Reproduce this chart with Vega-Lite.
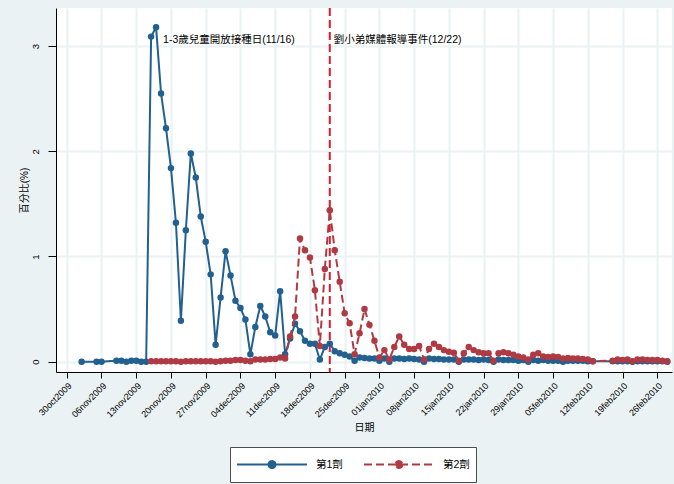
{
  "$schema": "https://vega.github.io/schema/vega-lite/v6.json",
  "width": 616,
  "height": 364,
  "autosize": {"type": "none"},
  "padding": {"left": 56, "top": 8, "right": 2, "bottom": 112},
  "background": "#EAF2F3",
  "config": {
    "view": {"fill": "white", "stroke": null},
    "font": "'Liberation Sans', 'Noto Sans CJK TC', sans-serif",
    "axis": {
      "domainColor": "black",
      "tickColor": "black",
      "labelColor": "black",
      "titleColor": "black",
      "gridColor": "#EAF2F3",
      "gridWidth": 2,
      "labelFont": "'Liberation Sans', 'Noto Sans CJK TC', sans-serif",
      "titleFont": "'Liberation Sans', 'Noto Sans CJK TC', sans-serif",
      "titleFontWeight": "normal",
      "labelFontSize": 9,
      "titleFontSize": 10
    }
  },
  "datasets": {
    "vacc": [
      {"date": "2009-11-02", "dose": "第1劑", "pct": 0},
      {"date": "2009-11-05", "dose": "第1劑", "pct": 0},
      {"date": "2009-11-06", "dose": "第1劑", "pct": 0},
      {"date": "2009-11-09", "dose": "第1劑", "pct": 0.01},
      {"date": "2009-11-10", "dose": "第1劑", "pct": 0.01},
      {"date": "2009-11-11", "dose": "第1劑", "pct": 0},
      {"date": "2009-11-12", "dose": "第1劑", "pct": 0.01},
      {"date": "2009-11-13", "dose": "第1劑", "pct": 0.01},
      {"date": "2009-11-14", "dose": "第1劑", "pct": 0},
      {"date": "2009-11-15", "dose": "第1劑", "pct": 0},
      {"date": "2009-11-16", "dose": "第1劑", "pct": 3.09},
      {"date": "2009-11-17", "dose": "第1劑", "pct": 3.18},
      {"date": "2009-11-18", "dose": "第1劑", "pct": 2.55},
      {"date": "2009-11-19", "dose": "第1劑", "pct": 2.22},
      {"date": "2009-11-20", "dose": "第1劑", "pct": 1.84},
      {"date": "2009-11-21", "dose": "第1劑", "pct": 1.32},
      {"date": "2009-11-22", "dose": "第1劑", "pct": 0.39},
      {"date": "2009-11-23", "dose": "第1劑", "pct": 1.25},
      {"date": "2009-11-24", "dose": "第1劑", "pct": 1.98},
      {"date": "2009-11-25", "dose": "第1劑", "pct": 1.75},
      {"date": "2009-11-26", "dose": "第1劑", "pct": 1.38},
      {"date": "2009-11-27", "dose": "第1劑", "pct": 1.14},
      {"date": "2009-11-28", "dose": "第1劑", "pct": 0.83},
      {"date": "2009-11-29", "dose": "第1劑", "pct": 0.16},
      {"date": "2009-11-30", "dose": "第1劑", "pct": 0.61},
      {"date": "2009-12-01", "dose": "第1劑", "pct": 1.05},
      {"date": "2009-12-02", "dose": "第1劑", "pct": 0.82},
      {"date": "2009-12-03", "dose": "第1劑", "pct": 0.58},
      {"date": "2009-12-04", "dose": "第1劑", "pct": 0.51},
      {"date": "2009-12-05", "dose": "第1劑", "pct": 0.4},
      {"date": "2009-12-06", "dose": "第1劑", "pct": 0.07},
      {"date": "2009-12-07", "dose": "第1劑", "pct": 0.33},
      {"date": "2009-12-08", "dose": "第1劑", "pct": 0.53},
      {"date": "2009-12-09", "dose": "第1劑", "pct": 0.43},
      {"date": "2009-12-10", "dose": "第1劑", "pct": 0.28},
      {"date": "2009-12-11", "dose": "第1劑", "pct": 0.25},
      {"date": "2009-12-12", "dose": "第1劑", "pct": 0.67},
      {"date": "2009-12-13", "dose": "第1劑", "pct": 0.07},
      {"date": "2009-12-14", "dose": "第1劑", "pct": 0.22},
      {"date": "2009-12-15", "dose": "第1劑", "pct": 0.36},
      {"date": "2009-12-16", "dose": "第1劑", "pct": 0.29},
      {"date": "2009-12-17", "dose": "第1劑", "pct": 0.2},
      {"date": "2009-12-18", "dose": "第1劑", "pct": 0.17},
      {"date": "2009-12-19", "dose": "第1劑", "pct": 0.17},
      {"date": "2009-12-20", "dose": "第1劑", "pct": 0.02},
      {"date": "2009-12-21", "dose": "第1劑", "pct": 0.14},
      {"date": "2009-12-22", "dose": "第1劑", "pct": 0.17},
      {"date": "2009-12-23", "dose": "第1劑", "pct": 0.1},
      {"date": "2009-12-24", "dose": "第1劑", "pct": 0.08},
      {"date": "2009-12-25", "dose": "第1劑", "pct": 0.065},
      {"date": "2009-12-26", "dose": "第1劑", "pct": 0.05},
      {"date": "2009-12-27", "dose": "第1劑", "pct": 0.01},
      {"date": "2009-12-28", "dose": "第1劑", "pct": 0.04},
      {"date": "2009-12-29", "dose": "第1劑", "pct": 0.035},
      {"date": "2009-12-30", "dose": "第1劑", "pct": 0.03},
      {"date": "2009-12-31", "dose": "第1劑", "pct": 0.03},
      {"date": "2010-01-01", "dose": "第1劑", "pct": 0.01},
      {"date": "2010-01-02", "dose": "第1劑", "pct": 0.03},
      {"date": "2010-01-03", "dose": "第1劑", "pct": 0},
      {"date": "2010-01-04", "dose": "第1劑", "pct": 0.03},
      {"date": "2010-01-05", "dose": "第1劑", "pct": 0.03},
      {"date": "2010-01-06", "dose": "第1劑", "pct": 0.025},
      {"date": "2010-01-07", "dose": "第1劑", "pct": 0.03},
      {"date": "2010-01-08", "dose": "第1劑", "pct": 0.025},
      {"date": "2010-01-09", "dose": "第1劑", "pct": 0.02},
      {"date": "2010-01-10", "dose": "第1劑", "pct": 0},
      {"date": "2010-01-11", "dose": "第1劑", "pct": 0.03},
      {"date": "2010-01-12", "dose": "第1劑", "pct": 0.025},
      {"date": "2010-01-13", "dose": "第1劑", "pct": 0.025},
      {"date": "2010-01-14", "dose": "第1劑", "pct": 0.02},
      {"date": "2010-01-15", "dose": "第1劑", "pct": 0.02},
      {"date": "2010-01-16", "dose": "第1劑", "pct": 0.02},
      {"date": "2010-01-17", "dose": "第1劑", "pct": 0},
      {"date": "2010-01-18", "dose": "第1劑", "pct": 0.02},
      {"date": "2010-01-19", "dose": "第1劑", "pct": 0.02},
      {"date": "2010-01-20", "dose": "第1劑", "pct": 0.02},
      {"date": "2010-01-21", "dose": "第1劑", "pct": 0.015},
      {"date": "2010-01-22", "dose": "第1劑", "pct": 0.02},
      {"date": "2010-01-23", "dose": "第1劑", "pct": 0.015},
      {"date": "2010-01-24", "dose": "第1劑", "pct": 0},
      {"date": "2010-01-25", "dose": "第1劑", "pct": 0.02},
      {"date": "2010-01-26", "dose": "第1劑", "pct": 0.015},
      {"date": "2010-01-27", "dose": "第1劑", "pct": 0.015},
      {"date": "2010-01-28", "dose": "第1劑", "pct": 0.015},
      {"date": "2010-01-29", "dose": "第1劑", "pct": 0.01},
      {"date": "2010-01-30", "dose": "第1劑", "pct": 0.015},
      {"date": "2010-01-31", "dose": "第1劑", "pct": 0},
      {"date": "2010-02-01", "dose": "第1劑", "pct": 0.015},
      {"date": "2010-02-02", "dose": "第1劑", "pct": 0.01},
      {"date": "2010-02-03", "dose": "第1劑", "pct": 0.015},
      {"date": "2010-02-04", "dose": "第1劑", "pct": 0.01},
      {"date": "2010-02-05", "dose": "第1劑", "pct": 0.01},
      {"date": "2010-02-06", "dose": "第1劑", "pct": 0.01},
      {"date": "2010-02-07", "dose": "第1劑", "pct": 0},
      {"date": "2010-02-08", "dose": "第1劑", "pct": 0.01},
      {"date": "2010-02-09", "dose": "第1劑", "pct": 0.01},
      {"date": "2010-02-10", "dose": "第1劑", "pct": 0.01},
      {"date": "2010-02-11", "dose": "第1劑", "pct": 0.01},
      {"date": "2010-02-12", "dose": "第1劑", "pct": 0.005},
      {"date": "2010-02-13", "dose": "第1劑", "pct": 0.005},
      {"date": "2010-02-17", "dose": "第1劑", "pct": 0.005},
      {"date": "2010-02-18", "dose": "第1劑", "pct": 0.005},
      {"date": "2010-02-19", "dose": "第1劑", "pct": 0.005},
      {"date": "2010-02-20", "dose": "第1劑", "pct": 0.005},
      {"date": "2010-02-21", "dose": "第1劑", "pct": 0},
      {"date": "2010-02-22", "dose": "第1劑", "pct": 0.005},
      {"date": "2010-02-23", "dose": "第1劑", "pct": 0.005},
      {"date": "2010-02-24", "dose": "第1劑", "pct": 0.005},
      {"date": "2010-02-25", "dose": "第1劑", "pct": 0.005},
      {"date": "2010-02-26", "dose": "第1劑", "pct": 0.005},
      {"date": "2010-02-27", "dose": "第1劑", "pct": 0.005},
      {"date": "2010-02-28", "dose": "第1劑", "pct": 0},

      {"date": "2009-11-16", "dose": "第2劑", "pct": 0.005},
      {"date": "2009-11-17", "dose": "第2劑", "pct": 0.005},
      {"date": "2009-11-18", "dose": "第2劑", "pct": 0.005},
      {"date": "2009-11-19", "dose": "第2劑", "pct": 0.005},
      {"date": "2009-11-20", "dose": "第2劑", "pct": 0.005},
      {"date": "2009-11-21", "dose": "第2劑", "pct": 0.005},
      {"date": "2009-11-22", "dose": "第2劑", "pct": 0},
      {"date": "2009-11-23", "dose": "第2劑", "pct": 0.005},
      {"date": "2009-11-24", "dose": "第2劑", "pct": 0.005},
      {"date": "2009-11-25", "dose": "第2劑", "pct": 0.005},
      {"date": "2009-11-26", "dose": "第2劑", "pct": 0.005},
      {"date": "2009-11-27", "dose": "第2劑", "pct": 0.005},
      {"date": "2009-11-28", "dose": "第2劑", "pct": 0.005},
      {"date": "2009-11-29", "dose": "第2劑", "pct": 0},
      {"date": "2009-11-30", "dose": "第2劑", "pct": 0.005},
      {"date": "2009-12-01", "dose": "第2劑", "pct": 0.01},
      {"date": "2009-12-02", "dose": "第2劑", "pct": 0.01},
      {"date": "2009-12-03", "dose": "第2劑", "pct": 0.015},
      {"date": "2009-12-04", "dose": "第2劑", "pct": 0.015},
      {"date": "2009-12-05", "dose": "第2劑", "pct": 0.01},
      {"date": "2009-12-06", "dose": "第2劑", "pct": 0.005},
      {"date": "2009-12-07", "dose": "第2劑", "pct": 0.02},
      {"date": "2009-12-08", "dose": "第2劑", "pct": 0.02},
      {"date": "2009-12-09", "dose": "第2劑", "pct": 0.02},
      {"date": "2009-12-10", "dose": "第2劑", "pct": 0.025},
      {"date": "2009-12-11", "dose": "第2劑", "pct": 0.025},
      {"date": "2009-12-12", "dose": "第2劑", "pct": 0.04},
      {"date": "2009-12-13", "dose": "第2劑", "pct": 0.03},
      {"date": "2009-12-14", "dose": "第2劑", "pct": 0.24},
      {"date": "2009-12-15", "dose": "第2劑", "pct": 0.43},
      {"date": "2009-12-16", "dose": "第2劑", "pct": 1.17},
      {"date": "2009-12-17", "dose": "第2劑", "pct": 1.06},
      {"date": "2009-12-18", "dose": "第2劑", "pct": 0.99},
      {"date": "2009-12-19", "dose": "第2劑", "pct": 0.68},
      {"date": "2009-12-20", "dose": "第2劑", "pct": 0.15},
      {"date": "2009-12-21", "dose": "第2劑", "pct": 0.88},
      {"date": "2009-12-22", "dose": "第2劑", "pct": 1.44},
      {"date": "2009-12-23", "dose": "第2劑", "pct": 1.06},
      {"date": "2009-12-24", "dose": "第2劑", "pct": 0.76},
      {"date": "2009-12-25", "dose": "第2劑", "pct": 0.46},
      {"date": "2009-12-26", "dose": "第2劑", "pct": 0.365},
      {"date": "2009-12-27", "dose": "第2劑", "pct": 0.07},
      {"date": "2009-12-28", "dose": "第2劑", "pct": 0.27},
      {"date": "2009-12-29", "dose": "第2劑", "pct": 0.5},
      {"date": "2009-12-30", "dose": "第2劑", "pct": 0.35},
      {"date": "2009-12-31", "dose": "第2劑", "pct": 0.2},
      {"date": "2010-01-01", "dose": "第2劑", "pct": 0.04},
      {"date": "2010-01-02", "dose": "第2劑", "pct": 0.11},
      {"date": "2010-01-03", "dose": "第2劑", "pct": 0.02},
      {"date": "2010-01-04", "dose": "第2劑", "pct": 0.14},
      {"date": "2010-01-05", "dose": "第2劑", "pct": 0.24},
      {"date": "2010-01-06", "dose": "第2劑", "pct": 0.16},
      {"date": "2010-01-07", "dose": "第2劑", "pct": 0.12},
      {"date": "2010-01-08", "dose": "第2劑", "pct": 0.12},
      {"date": "2010-01-09", "dose": "第2劑", "pct": 0.15},
      {"date": "2010-01-10", "dose": "第2劑", "pct": 0.02},
      {"date": "2010-01-11", "dose": "第2劑", "pct": 0.12},
      {"date": "2010-01-12", "dose": "第2劑", "pct": 0.17},
      {"date": "2010-01-13", "dose": "第2劑", "pct": 0.14},
      {"date": "2010-01-14", "dose": "第2劑", "pct": 0.11},
      {"date": "2010-01-15", "dose": "第2劑", "pct": 0.095},
      {"date": "2010-01-16", "dose": "第2劑", "pct": 0.085},
      {"date": "2010-01-17", "dose": "第2劑", "pct": 0.01},
      {"date": "2010-01-18", "dose": "第2劑", "pct": 0.08},
      {"date": "2010-01-19", "dose": "第2劑", "pct": 0.14},
      {"date": "2010-01-20", "dose": "第2劑", "pct": 0.11},
      {"date": "2010-01-21", "dose": "第2劑", "pct": 0.09},
      {"date": "2010-01-22", "dose": "第2劑", "pct": 0.08},
      {"date": "2010-01-23", "dose": "第2劑", "pct": 0.08},
      {"date": "2010-01-24", "dose": "第2劑", "pct": 0.01},
      {"date": "2010-01-25", "dose": "第2劑", "pct": 0.08},
      {"date": "2010-01-26", "dose": "第2劑", "pct": 0.09},
      {"date": "2010-01-27", "dose": "第2劑", "pct": 0.08},
      {"date": "2010-01-28", "dose": "第2劑", "pct": 0.065},
      {"date": "2010-01-29", "dose": "第2劑", "pct": 0.05},
      {"date": "2010-01-30", "dose": "第2劑", "pct": 0.04},
      {"date": "2010-01-31", "dose": "第2劑", "pct": 0.02},
      {"date": "2010-02-01", "dose": "第2劑", "pct": 0.065},
      {"date": "2010-02-02", "dose": "第2劑", "pct": 0.08},
      {"date": "2010-02-03", "dose": "第2劑", "pct": 0.05},
      {"date": "2010-02-04", "dose": "第2劑", "pct": 0.045},
      {"date": "2010-02-05", "dose": "第2劑", "pct": 0.05},
      {"date": "2010-02-06", "dose": "第2劑", "pct": 0.045},
      {"date": "2010-02-07", "dose": "第2劑", "pct": 0.03},
      {"date": "2010-02-08", "dose": "第2劑", "pct": 0.035},
      {"date": "2010-02-09", "dose": "第2劑", "pct": 0.03},
      {"date": "2010-02-10", "dose": "第2劑", "pct": 0.03},
      {"date": "2010-02-11", "dose": "第2劑", "pct": 0.025},
      {"date": "2010-02-12", "dose": "第2劑", "pct": 0.02},
      {"date": "2010-02-13", "dose": "第2劑", "pct": 0.005},
      {"date": "2010-02-17", "dose": "第2劑", "pct": 0.01},
      {"date": "2010-02-18", "dose": "第2劑", "pct": 0.02},
      {"date": "2010-02-19", "dose": "第2劑", "pct": 0.015},
      {"date": "2010-02-20", "dose": "第2劑", "pct": 0.02},
      {"date": "2010-02-21", "dose": "第2劑", "pct": 0.005},
      {"date": "2010-02-22", "dose": "第2劑", "pct": 0.02},
      {"date": "2010-02-23", "dose": "第2劑", "pct": 0.02},
      {"date": "2010-02-24", "dose": "第2劑", "pct": 0.015},
      {"date": "2010-02-25", "dose": "第2劑", "pct": 0.015},
      {"date": "2010-02-26", "dose": "第2劑", "pct": 0.015},
      {"date": "2010-02-27", "dose": "第2劑", "pct": 0.01},
      {"date": "2010-02-28", "dose": "第2劑", "pct": 0.005}
    ]
  },
  "encoding": {
    "x": {
      "field": "date",
      "type": "temporal",
      "title": "日期",
      "scale": {
        "type": "utc",
        "domain": [
          {"year": 2009, "month": 10, "date": 27, "hours": 20, "utc": true},
          {"year": 2010, "month": 2, "date": 28, "hours": 23, "utc": true}
        ]
      },
      "axis": {
        "values": [
          {"year": 2009, "month": 10, "date": 30, "utc": true},
          {"year": 2009, "month": 11, "date": 6, "utc": true},
          {"year": 2009, "month": 11, "date": 13, "utc": true},
          {"year": 2009, "month": 11, "date": 20, "utc": true},
          {"year": 2009, "month": 11, "date": 27, "utc": true},
          {"year": 2009, "month": 12, "date": 4, "utc": true},
          {"year": 2009, "month": 12, "date": 11, "utc": true},
          {"year": 2009, "month": 12, "date": 18, "utc": true},
          {"year": 2009, "month": 12, "date": 25, "utc": true},
          {"year": 2010, "month": 1, "date": 1, "utc": true},
          {"year": 2010, "month": 1, "date": 8, "utc": true},
          {"year": 2010, "month": 1, "date": 15, "utc": true},
          {"year": 2010, "month": 1, "date": 22, "utc": true},
          {"year": 2010, "month": 1, "date": 29, "utc": true},
          {"year": 2010, "month": 2, "date": 5, "utc": true},
          {"year": 2010, "month": 2, "date": 12, "utc": true},
          {"year": 2010, "month": 2, "date": 19, "utc": true},
          {"year": 2010, "month": 2, "date": 26, "utc": true}
        ],
        "labelExpr": "lower(utcFormat(datum.value, '%d%b%Y'))",
        "labelAngle": -45,
        "labelOverlap": false,
        "labelPadding": 3,
        "tickSize": 6,
        "titlePadding": 4,
        "grid": true
      }
    }
  },
  "layer": [
    {
      "data": {"values": [{"date": "2009-12-22"}]},
      "mark": {"type": "rule", "color": "#DD1A30", "strokeWidth": 2, "strokeDash": [8, 4]},
      "encoding": {}
    },
    {
      "data": {"values": [{"date": "2009-11-16", "pct": 3.06, "note": "1-3歲兒童開放接種日(11/16)"}]},
      "mark": {"type": "text", "align": "left", "baseline": "middle", "dx": 12, "fontSize": 10.5, "color": "black", "font": "'Liberation Sans', 'Noto Sans CJK TC', sans-serif"},
      "encoding": {
        "y": {"field": "pct", "type": "quantitative", "title": "百分比(%)"},
        "text": {"field": "note"}
      }
    },
    {
      "data": {"values": [{"date": "2009-12-22", "pct": 3.06, "note": "劉小弟媒體報導事件(12/22)"}]},
      "mark": {"type": "text", "align": "left", "baseline": "middle", "dx": 4, "fontSize": 10.5, "color": "black", "font": "'Liberation Sans', 'Noto Sans CJK TC', sans-serif"},
      "encoding": {
        "y": {"field": "pct", "type": "quantitative", "title": "百分比(%)"},
        "text": {"field": "note"}
      }
    },
    {
      "data": {"name": "vacc"},
      "transform": [{"filter": "datum.dose === '第1劑'"}],
      "mark": {"type": "line", "strokeWidth": 2, "point": {"filled": true, "size": 42, "opacity": 1}},
      "encoding": {
        "y": {
          "field": "pct", "type": "quantitative", "title": "百分比(%)",
          "scale": {"domain": [-0.098, 3.362], "nice": false, "zero": false},
          "axis": {"values": [0, 1, 2, 3], "format": "d", "labelAngle": -90, "labelFontSize": 9.5, "tickSize": 8, "labelPadding": 8, "titlePadding": 1, "grid": true}
        },
        "color": {
          "field": "dose", "type": "nominal",
          "scale": {"domain": ["第1劑", "第2劑"], "range": ["#22608F", "#B03A43"]},
          "legend": {
            "title": null, "orient": "none", "legendX": 174, "legendY": 439, "direction": "horizontal",
            "symbolType": "M-1,0L1,0M0.1,0A0.1,0.1 0 1,1 -0.1,0A0.1,0.1 0 1,1 0.1,0Z",
            "symbolSize": 4900, "symbolStrokeWidth": 2, "clipHeight": 23, "padding": 6,
            "fillColor": "white", "strokeColor": "#4D4D4D", "labelFontSize": 10.5, "labelOffset": 8,
            "columnPadding": 20, "labelColor": "black",
            "labelFont": "'Liberation Sans', 'Noto Sans CJK TC', sans-serif",
            "encode": {"symbols": {"update": {"fill": {"scale": "color", "field": "value"}, "opacity": {"value": 1}}}}
          }
        },
        "strokeDash": {
          "field": "dose", "type": "nominal",
          "scale": {"domain": ["第1劑", "第2劑"], "range": [[1, 0], [8, 4]]},
          "legend": null
        }
      }
    },
    {
      "data": {"name": "vacc"},
      "transform": [{"filter": "datum.dose === '第2劑'"}],
      "mark": {"type": "line", "strokeWidth": 2, "point": {"filled": true, "size": 42, "opacity": 1}},
      "encoding": {
        "y": {"field": "pct", "type": "quantitative", "title": "百分比(%)"},
        "color": {"field": "dose", "type": "nominal"},
        "strokeDash": {"field": "dose", "type": "nominal", "legend": null}
      }
    }
  ]
}
